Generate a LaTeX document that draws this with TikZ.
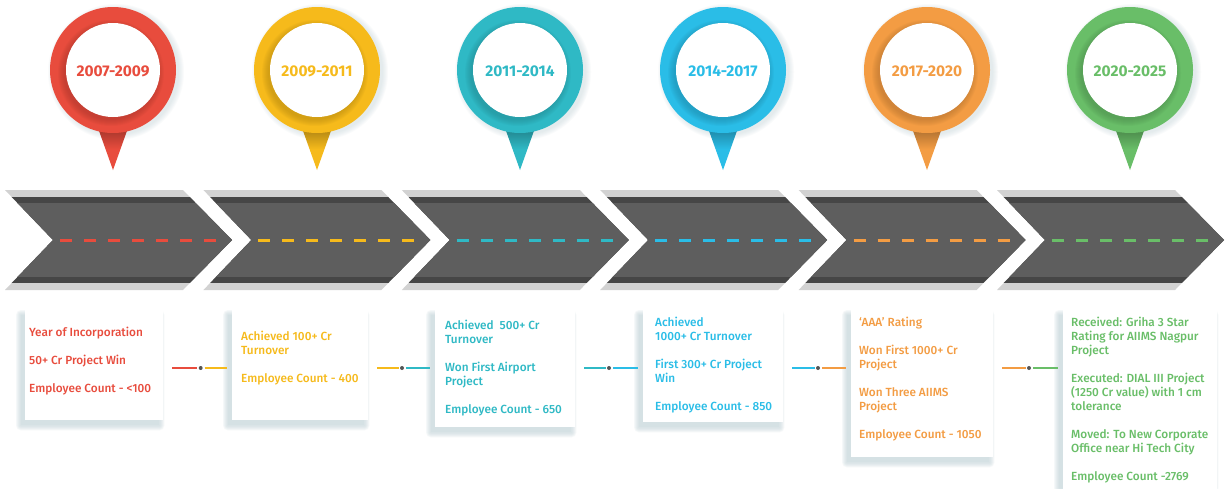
\documentclass[tikz,border=0pt]{standalone}
\usepackage{fontspec}
\setmainfont{Fira Sans}
\newfontfamily\medfont{Fira Sans Medium}
\usetikzlibrary{backgrounds}
\definecolor{cA}{HTML}{E84C3D}
\definecolor{cB}{HTML}{F6BA1B}
\definecolor{cC}{HTML}{2FB9C5}
\definecolor{cD}{HTML}{2ABDE7}
\definecolor{cE}{HTML}{F39C43}
\definecolor{cF}{HTML}{69BE68}
\definecolor{roadlight}{HTML}{D2D2D2}
\definecolor{roaddark}{HTML}{464646}
\definecolor{roadmain}{HTML}{5E5E5E}
\definecolor{shcol}{HTML}{B9CDD3}
\definecolor{dotcol}{HTML}{555555}
\newcommand\mytxt[1]{\parbox[t]{170pt}{\raggedright\setlength\baselineskip{14pt}#1}}
\begin{document}
\begin{tikzpicture}[x=1pt,y=-1pt,
  infobox/.style={draw=none,fill=white,anchor=north west,inner sep=0pt},
  infotext/.style={anchor=base west,inner sep=0pt,font=\medfont\fontsize{11.8}{14}\selectfont},
  yeartext/.style={font=\bfseries\fontsize{15.5}{17}\selectfont,inner sep=0pt},
  conn/.style={line width=2.5pt},
  cdot/.style={circle,fill=dotcol,inner sep=0pt,minimum size=4pt}]
\useasboundingbox (0,0) rectangle (1231,488);

% pins
\foreach \cx/\col/\yr/\n in {113/cA/2007-2009/1,317/cB/2009-2011/2,520/cC/2011-2014/3,723/cD/2014-2017/4,927/cE/2017-2020/5,1130/cF/2020-2025/6}{
  \foreach \k in {1,...,6}{
    \fill[shcol,opacity=.07] (\cx+3,72) circle[radius=62pt+\k pt];
  }
  \shade[top color=\col!70!black,bottom color=\col,middle color=\col] (\cx-15,128) -- (\cx+15,128) -- (\cx,170) -- cycle;
  \fill[\col] (\cx,70) circle[radius=63pt];
  \foreach \k in {1,...,7}{
    \fill[\col!70!black,opacity=.08] (\cx-2,73) circle[radius=46pt+\k pt];
  }
  \fill[white] (\cx,70) circle[radius=47pt];
  \node[yeartext,text=\col] (y\n) at (\cx,71) {\yr};
}

% road
\foreach \i/\col in {0/cA,1/cB,2/cC,3/cD,4/cE,5/cF}{
  \pgfmathsetmacro\s{5+198.4*\i}
  \begin{scope}
    \path[clip] (\s,190) -- ++(178,0) -- ++(49,50) -- ++(-49,50) -- ++(-178,0) -- ++(48,-50) -- cycle;
    \fill[roadlight] (\s-5,185) rectangle (\s+235,295);
    \fill[roaddark] (\s-5,197) rectangle (\s+235,283);
    \fill[roadmain] (\s-5,203) rectangle (\s+235,277);
  \end{scope}
  \draw[\col,line width=3pt,dash pattern=on 12pt off 12pt] (\s+55,240) -- (\s+212,240);
}

% boxes
\node[infobox,minimum width=138pt,minimum height=110pt] (b1) at (25,310) {};
\node[infobox,minimum width=136pt,minimum height=110pt] (b2) at (232,310) {};
\node[infobox,minimum width=140pt,minimum height=117pt] (b3) at (435,310) {};
\node[infobox,minimum width=140pt,minimum height=112pt] (b4) at (643,310) {};
\node[infobox,minimum width=142pt,minimum height=147pt] (b5) at (851,310) {};
\node[infobox,minimum width=154pt,minimum height=190pt] (b6) at (1063,310) {};

\begin{pgfonlayer}{background}
  \fill[white] (0,0) rectangle (1231,488);
  \foreach \b in {b1,b2,b3,b4,b5,b6}{
    \foreach \e in {0,...,5}{
      \fill[shcol,opacity=.13,rounded corners=\e pt]
        ([shift={(-4-\e,5-\e)}]\b.north west) rectangle ([shift={(-4+\e,5+\e)}]\b.south east);
    }
  }
\end{pgfonlayer}

\node[infotext,text=cA] (t1) at (29,336) {\mytxt{Year of Incorporation\\[14pt]50+ Cr Project Win\\[14pt]Employee Count - <100}};
\node[infotext,text=cB] (t2) at (241,340) {\mytxt{Achieved 100+ Cr\\Turnover\\[14pt]Employee Count - 400}};
\node[infotext,text=cC] (t3) at (445,329) {\mytxt{Achieved\ \ 500+ Cr\\Turnover\\[14pt]Won First Airport\\Project\\[14pt]Employee Count - 650}};
\node[infotext,text=cD] (t4) at (655,326) {\mytxt{Achieved\\1000+ Cr Turnover\\[14pt]First 300+ Cr Project\\Win\\[14pt]Employee Count - 850}};
\node[infotext,text=cE] (t5) at (859,326) {\mytxt{‘AAA’ Rating\\[14pt]Won First 1000+ Cr\\Project\\[14pt]Won Three AIIMS\\Project\\[14pt]Employee Count - 1050}};
\node[infotext,text=cF] (t6) at (1071,326) {\mytxt{Received: Griha 3 Star\\Rating for AIIMS Nagpur\\Project\\[14pt]Executed: DIAL III Project\\(1250 Cr value) with 1 cm\\tolerance\\[14pt]Moved: To New Corporate\\Office near Hi Tech City\\[14pt]Employee Count -2769}};

% connectors
\foreach \a/\b/\dx/\ca/\cb in {1/2/200.7/cA/cB,2/3/402/cB/cC,3/4/609/cC/cD,4/5/818/cD/cE,5/6/1029/cE/cF}{
  \coordinate (d\a) at (\dx,368);
  \draw[conn,\ca] ([xshift=9pt]b\a.east |- d\a) -- ([xshift=-3.5pt]d\a);
  \draw[conn,\cb] ([xshift=4pt]d\a) -- ([xshift=-5pt]b\b.west |- d\a);
  \node[cdot] (p\a) at (d\a) {};
}
\end{tikzpicture}
\end{document}
